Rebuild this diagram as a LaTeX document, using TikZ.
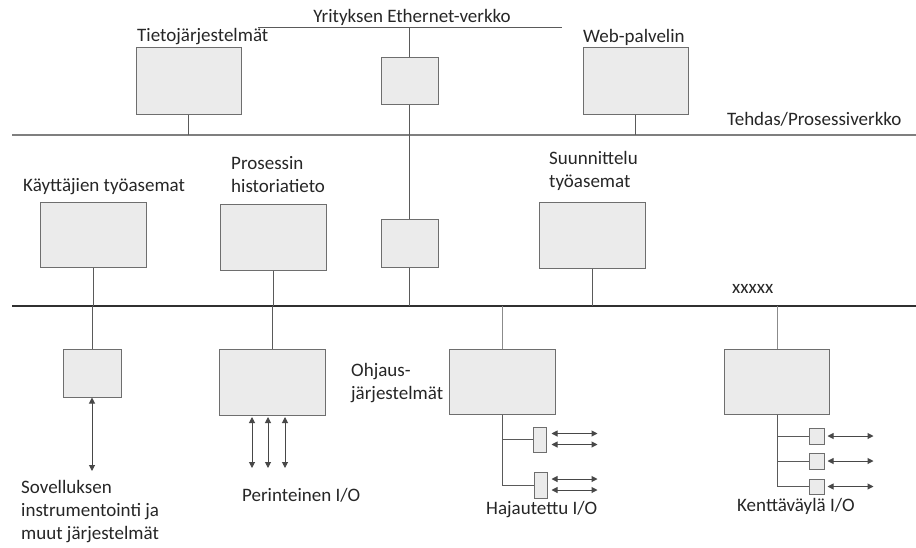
\documentclass[tikz,border=0pt]{standalone}
\usepackage{fontspec}
\setmainfont{Carlito}
\usetikzlibrary{arrows.meta}
\definecolor{boxfill}{HTML}{EBEBEB}
\definecolor{boxline}{HTML}{6E6E6E}
\definecolor{wire}{HTML}{5A5A5A}
\definecolor{plantnet}{HTML}{7F7F7F}
\definecolor{ctrlnet}{HTML}{303030}
\definecolor{txt}{HTML}{262626}
\tikzset{
  unit/.style={draw=boxline, fill=boxfill, line width=1pt, inner sep=0pt},
  label text/.style={inner sep=0pt, anchor=west, text=txt, align=left,
    font=\fontsize{19}{23}\selectfont},
  wireline/.style={draw=wire, line width=0.9pt},
  iolink/.style={draw=wire!80!black, line width=1pt,
    {Triangle[length=6pt,width=6pt]}-{Triangle[length=6pt,width=6pt]}},
}
\newcommand{\unitbox}[5]{\node[unit, minimum width=#4pt, minimum height=#5pt] (#1) at (#2,#3) {};}
\begin{document}
\begin{tikzpicture}[x=1pt,y=-1pt]
\useasboundingbox (0,0) rectangle (916,547);

% networks
\coordinate (ethL) at (258,27);
\coordinate (ethR) at (562,27);
\coordinate (plantL) at (12,135);
\coordinate (plantR) at (916,135);
\coordinate (ctrlL) at (12,306);
\coordinate (ctrlR) at (916,306);
\draw[wireline] (ethL) -- (ethR);
\draw[draw=plantnet, line width=2.6pt] (plantL) -- (plantR);
\draw[draw=ctrlnet, line width=1.5pt] (ctrlL) -- (ctrlR);

% units
\unitbox{tieto}{188.5}{80.5}{105}{67}
\unitbox{ethtop}{409.5}{80.5}{57}{47}
\unitbox{web}{635.5}{80.5}{105}{67}
\unitbox{kayt}{93}{234.5}{106}{65}
\unitbox{hist}{273}{237}{106}{66}
\unitbox{ethmid}{409.5}{243}{57}{48}
\unitbox{suun}{592}{235}{106}{66}
\unitbox{sov}{92}{373}{58}{48}
\unitbox{perint}{272}{382}{106}{66}
\unitbox{ohj}{502}{381.5}{106}{65}
\unitbox{kentta}{777}{381.5}{105}{65}
\unitbox{hd1}{539.5}{439.5}{13}{25}
\unitbox{hd2}{540.5}{485}{13}{26}
\unitbox{kb1}{816.5}{436}{15}{16}
\unitbox{kb2}{816.5}{461}{15}{16}
\unitbox{kb3}{816.5}{486.5}{15}{15}

% router chain between the networks
\coordinate (ethdrop) at (ethtop.north |- ethL);
\draw[wireline] (ethdrop) -- (ethtop.north);
\draw[wireline] (ethtop.south) -- (ethmid.north);
\draw[wireline] (ethmid.south) -- (ethmid.south |- ctrlL);

% drops to the plant network
\draw[wireline] (tieto.south) -- (tieto.south |- plantL);
\draw[wireline] (web.south) -- (web.south |- plantL);

% drops to the control network
\draw[wireline] (kayt.south) -- (kayt.south |- ctrlL);
\draw[wireline] (hist.south) -- (hist.south |- ctrlL);
\draw[wireline] (suun.south) -- (suun.south |- ctrlL);
\draw[wireline] (sov.north |- ctrlL) -- (sov.north);
\draw[wireline] (perint.north |- ctrlL) -- (perint.north);
\draw[draw=wire!70, line width=0.9pt] (ohj.north |- ctrlL) -- (ohj.north);
\draw[draw=wire!70, line width=0.9pt] (kentta.north |- ctrlL) -- (kentta.north);

% field I/O
\coordinate (sovend) at (92,471);
\draw[iolink] (sov.south) -- (sovend);
\foreach \xx [count=\i] in {252,268,285}{
  \coordinate (pa\i) at (\xx,417);
  \coordinate (pb\i) at (\xx,468);
  \draw[iolink] (pa\i) -- (pb\i);
}

% distributed I/O
\draw[wireline] (ohj.south) -- (ohj.south |- hd2.west) -- (hd2.west);
\draw[wireline] (ohj.south |- hd1.west) -- (hd1.west);
\foreach \dy [count=\i] in {-5,6}{
  \coordinate (dioA\i) at ([xshift=5pt,yshift=\dy pt]hd1.east);
  \coordinate (dioB\i) at ([xshift=51pt,yshift=\dy pt]hd1.east);
  \draw[iolink] (dioA\i) -- (dioB\i);
  \coordinate (dioC\i) at ([xshift=4pt,yshift=\dy pt]hd2.east);
  \coordinate (dioD\i) at ([xshift=50pt,yshift=\dy pt]hd2.east);
  \draw[iolink] (dioC\i) -- (dioD\i);
}

% fieldbus I/O
\draw[wireline] (kentta.south) -- (kentta.south |- kb3.west) -- (kb3.west);
\draw[wireline] (kentta.south |- kb1.west) -- (kb1.west);
\draw[wireline] (kentta.south |- kb2.west) -- (kb2.west);
\foreach \b in {kb1,kb2,kb3}{
  \coordinate (\b a) at ([xshift=3pt]\b.east);
  \coordinate (\b b) at ([xshift=49pt]\b.east);
  \draw[iolink] (\b a) -- (\b b);
}

% labels
\node[label text, anchor=center] (lEth) at (412,17) {Yrityksen Ethernet-verkko};
\node[label text] (lTieto) at (137,37) {Tietojärjestelmät};
\node[label text] (lWeb) at (583,37) {Web-palvelin};
\node[label text] (lPlant) at (727,119) {Tehdas/Prosessiverkko};
\node[label text] (lKayt) at (23,187) {Käyttäjien työasemat};
\node[label text] (lHist) at (231,175) {Prosessin\\historiatieto};
\node[label text] (lSuun) at (549,171) {Suunnittelu\\työasemat};
\node[label text] (lX) at (732,289) {xxxxx};
\node[label text] (lSov) at (21,512) {Sovelluksen\\instrumentointi ja\\muut järjestelmät};
\node[label text] (lPer) at (242,495) {Perinteinen I/O};
\node[label text] (lOhj) at (351,383) {Ohjaus-\\järjestelmät};
\node[label text] (lHaj) at (486,510) {Hajautettu I/O};
\node[label text] (lKen) at (737,506) {Kenttäväylä I/O};
\end{tikzpicture}
\end{document}
